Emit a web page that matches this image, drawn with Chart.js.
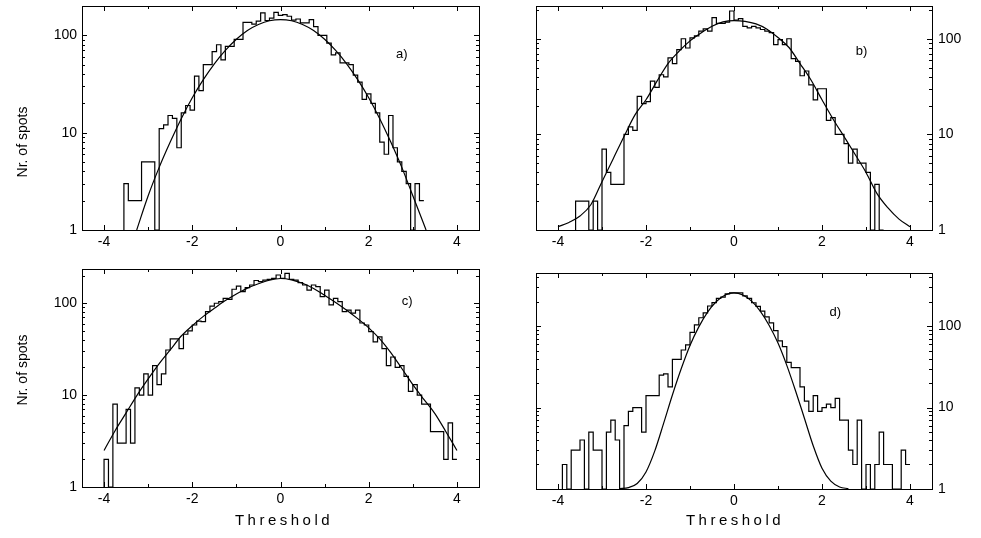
<!DOCTYPE html>
<html>
<head>
<meta charset="utf-8">
<script src="https://cdn.jsdelivr.net/npm/chart.js@4.4.1/dist/chart.umd.min.js"></script>
<style>
  body { margin: 0; background: #fff; }
  #wrap { position: relative; width: 981px; height: 538px; overflow: hidden; font-family: "Liberation Sans", Arial, sans-serif; color: #000; }
  canvas { position: absolute; }
  .ytitle { position: absolute; width: 120px; height: 18px; line-height: 18px; text-align: center; font-size: 14px; transform: rotate(-90deg); white-space: nowrap; }
  .xtitle { position: absolute; width: 140px; text-align: center; font-size: 15px; letter-spacing: 3.5px; white-space: nowrap; }
</style>
</head>
<body>
<div id="wrap">
  <canvas id="cA" width="490" height="262" style="left:0;top:0"></canvas>
  <canvas id="cB" width="491" height="262" style="left:490px;top:0"></canvas>
  <canvas id="cC" width="490" height="276" style="left:0;top:262px"></canvas>
  <canvas id="cD" width="491" height="276" style="left:490px;top:262px"></canvas>
  <div class="ytitle" style="left:-38px;top:133px">Nr. of spots</div>
  <div class="ytitle" style="left:-38px;top:361px">Nr. of spots</div>
  <div class="xtitle" style="left:214px;top:511px">Threshold</div>
  <div class="xtitle" style="left:665px;top:511px">Threshold</div>
</div>
<script>
// axis ticks
const xTicks = [-4, -2, 0, 2, 4];
const xMinor = [-3, -1, 1, 3];
const yTicks = [1, 10, 100];
const yMinor = [2, 3, 4, 5, 6, 7, 8, 9, 20, 30, 40, 50, 60, 70, 80, 90, 200, 300, 400];

const binWidth = 0.1;

// a) histogram, first bin starts at -3.55
const histAStart = -3.55;
const histA = [3, 2, 2, 2, 5, 5, 5, 1, 11, 12, 15, 14, 7, 16, 19, 17, 38, 27, 50, 50,
  68, 80, 56, 77, 77, 91, 91, 136, 136, 130, 140, 170, 142, 150, 172, 160,
  163, 157, 143, 147, 134, 134, 145, 123, 100, 100, 83, 63, 66, 52, 52, 50,
  39, 33, 22, 25, 20, 16, 8, 6, 15, 7, 5, 4, 3, 1, 3, 2];
const fitAX = [-3.26, -3, -2.75, -2.5, -2.25, -2, -1.75, -1.5, -1.25, -1, -0.75, -0.5, -0.25, 0,
  0.25, 0.5, 0.75, 1, 1.25, 1.5, 1.75, 2, 2.25, 2.5, 2.75, 3, 3.3];
const fitAY = [1, 2.25, 4.4, 8, 13.9, 22.8, 35, 51, 70, 91, 112, 129, 141, 145,
  141, 129, 112, 91, 70, 51, 35, 22.8, 13.9, 8, 4.4, 2.25, 1];

// b)
const histBStart = -3.6;
const histB = [2, 2, 2, 1, 2, 1, 7, 4, 3, 3, 3, 10, 12, 11, 25, 21, 22, 36, 31, 42,
  40, 63, 55, 77, 100, 80, 102, 107, 120, 127, 120, 166, 145, 145, 149, 195,
  157, 162, 135, 130, 135, 130, 125, 120, 116, 87, 98, 87, 100, 62, 58, 41,
  46, 33, 23, 30, 30, 14, 15, 10, 10, 8, 5, 7, 5, 5, 4, 1, 3, 1];
const fitBX = [-4, -3.75, -3.5, -3.25, -3, -2.75, -2.5, -2.25, -2, -1.75, -1.5, -1.25, -1, -0.75, -0.5, -0.25, 0,
  0.25, 0.5, 0.75, 1, 1.25, 1.5, 1.75, 2, 2.25, 2.5, 2.75, 3, 3.25, 3.5, 3.75, 4];
const fitBY = [1.08, 1.2, 1.4, 1.85, 3.2, 5.5, 9.5, 16, 23, 36, 55, 74, 95, 115, 135, 150, 155,
  152, 143, 126, 103, 81, 55, 37, 23, 14.5, 9.5, 6.2, 4, 2.4, 1.7, 1.3, 1.08];

// c)
const histCStart = -4.0;
const histC = [2, 1, 8, 3, 3, 7, 3, 12, 10, 17, 10, 21, 13, 17, 31, 41, 41, 32, 46, 50,
  58, 64, 63, 81, 93, 100, 104, 113, 110, 142, 154, 134, 148, 158, 177, 172, 179, 182, 187, 203,
  187, 211, 182, 179, 168, 158, 139, 158, 152, 118, 139, 96, 113, 104, 81, 84, 78, 84, 61, 58,
  49, 38, 43, 32, 21, 26, 20, 21, 16, 11, 13, 10, 8, 8, 4, 4, 4, 2, 5, 2];
const fitCX = [-4, -3.75, -3.5, -3.25, -3, -2.75, -2.5, -2.25, -2, -1.75, -1.5, -1.25, -1, -0.75, -0.5, -0.25, 0,
  0.25, 0.5, 0.75, 1, 1.25, 1.5, 1.75, 2, 2.25, 2.5, 2.75, 3, 3.25, 3.5, 3.75, 4];
const fitCY = [2.5, 4.1, 6.4, 10, 15, 22, 31, 44, 57, 72, 88, 107, 126, 146, 163, 178, 186,
  180, 165, 145, 122, 102, 84, 68, 54, 41, 29, 19.5, 13, 9, 6.3, 4, 2.5];

// d)
const histDStart = -3.9;
const histD = [2, 1, 3, 3, 4, 1, 5, 3, 3, 1, 5, 7, 4, 1, 6, 9, 10, 10, 5, 14,
  14, 14, 25, 26, 18, 39, 39, 51, 59, 84, 104, 127, 146, 177, 195, 220, 228, 249, 256,
  256, 256, 235, 220, 194, 175, 153, 130, 110, 88, 66, 56, 36, 31, 31, 18, 12, 9, 14, 9,
  10, 11, 10, 13, 7, 7, 3, 2, 7, 1, 2, 1, 2, 5, 2, 2, 1, 1, 3, 2];
const fitDX = [-2.6, -2.4, -2.2, -2, -1.8, -1.6, -1.4, -1.2, -1, -0.8, -0.6, -0.4, -0.2, 0,
  0.2, 0.4, 0.6, 0.8, 1, 1.2, 1.4, 1.6, 1.8, 2, 2.2, 2.4, 2.6];
const fitDY = [1.01, 1.04, 1.17, 1.62, 2.94, 6.4, 14.3, 30, 58, 98, 149, 201, 241, 256,
  241, 203, 152, 102, 62, 33, 16, 7.4, 3.4, 1.8, 1.25, 1.06, 1.01];

function stepPoints(start, counts) {
  const pts = [{ x: start, y: 1 }];
  counts.forEach((c, i) => {
    const x0 = +(start + i * binWidth).toFixed(3);
    const x1 = +(start + (i + 1) * binWidth).toFixed(3);
    pts.push({ x: x0, y: c }, { x: x1, y: c });
  });
  return pts;
}

function curvePoints(xs, ys) {
  return xs.map((x, i) => ({ x: x, y: ys[i] }));
}

// inward tick marks + frame + panel letter
const framePlugin = {
  id: "frame",
  afterDraw(chart, args, opts) {
    const ctx = chart.ctx;
    const a = chart.chartArea;
    const xs = chart.scales.x;
    const ys = chart.scales.y;
    ctx.save();
    ctx.strokeStyle = "#000";
    ctx.lineWidth = 1;
    ctx.beginPath();
    const tick = (x1, y1, x2, y2) => { ctx.moveTo(x1, y1); ctx.lineTo(x2, y2); };
    xTicks.forEach(v => {
      const p = Math.round(xs.getPixelForValue(v)) + 0.5;
      tick(p, a.bottom, p, a.bottom - 5);
      tick(p, a.top, p, a.top + 5);
    });
    xMinor.forEach(v => {
      const p = Math.round(xs.getPixelForValue(v)) + 0.5;
      tick(p, a.bottom, p, a.bottom - 3);
      tick(p, a.top, p, a.top + 3);
    });
    yTicks.concat(yMinor).forEach(v => {
      if (v > ys.max) return;
      const len = yTicks.includes(v) ? 5 : 3;
      const p = Math.round(ys.getPixelForValue(v)) + 0.5;
      tick(a.left, p, a.left + len, p);
      tick(a.right, p, a.right - len, p);
    });
    ctx.stroke();
    ctx.strokeRect(Math.round(a.left) + 0.5, Math.round(a.top) + 0.5,
      Math.round(a.right - a.left), Math.round(a.bottom - a.top));
    ctx.fillStyle = "#000";
    ctx.font = '13px "Liberation Sans", Arial, sans-serif';
    ctx.textAlign = "center";
    ctx.textBaseline = "middle";
    ctx.fillText(opts.label, xs.getPixelForValue(opts.lx), ys.getPixelForValue(opts.ly));
    ctx.restore();
  }
};

function makePanel(id, p) {
  new Chart(document.getElementById(id), {
    type: "scatter",
    data: {
      datasets: [
        { data: stepPoints(p.start, p.counts), showLine: true, borderColor: "#000",
          borderWidth: 1.2, pointRadius: 0, tension: 0 },
        { data: curvePoints(p.fx, p.fy), showLine: true, borderColor: "#000",
          borderWidth: 1.2, pointRadius: 0, tension: 0.4, cubicInterpolationMode: "monotone" }
      ]
    },
    options: {
      responsive: false,
      animation: false,
      devicePixelRatio: 1,
      layout: { padding: p.pad },
      plugins: {
        legend: { display: false },
        tooltip: { enabled: false },
        frame: { label: p.label, lx: p.lx, ly: p.ly }
      },
      scales: {
        x: {
          type: "linear", min: -4.5, max: 4.5,
          grid: { display: false, drawTicks: false },
          border: { display: false },
          afterBuildTicks: s => { s.ticks = xTicks.map(v => ({ value: v })); },
          afterFit: s => { s.height = p.xh; s.paddingLeft = 0; s.paddingRight = 0; },
          ticks: { autoSkip: false, maxRotation: 0, padding: 4, color: "#000",
            font: { family: '"Liberation Sans", Arial, sans-serif', size: 14 },
            callback: v => String(v) }
        },
        y: {
          type: "logarithmic", min: 1, max: p.ymax, position: p.ypos,
          grid: { display: false, drawTicks: false },
          border: { display: false },
          afterBuildTicks: s => { s.ticks = yTicks.map(v => ({ value: v })); },
          afterFit: s => { s.width = p.yw; s.paddingTop = 0; s.paddingBottom = 0; },
          ticks: { autoSkip: false, padding: p.ypos === "left" ? 5 : 6, color: "#000",
            font: { family: '"Liberation Sans", Arial, sans-serif', size: 14 },
            callback: v => String(v) }
        }
      }
    },
    plugins: [framePlugin]
  });
}

makePanel("cA", { start: histAStart, counts: histA, fx: fitAX, fy: fitAY, ymax: 200, ypos: "left",
  pad: { left: 0, top: 6, right: 11, bottom: 0 }, yw: 82, xh: 32, label: "a)", lx: 2.75, ly: 63 });
makePanel("cB", { start: histBStart, counts: histB, fx: fitBX, fy: fitBY, ymax: 220, ypos: "right",
  pad: { left: 46, top: 6, right: 0, bottom: 0 }, yw: 49, xh: 32, label: "b)", lx: 2.9, ly: 73 });
makePanel("cC", { start: histCStart, counts: histC, fx: fitCX, fy: fitCY, ymax: 236, ypos: "left",
  pad: { left: 0, top: 7, right: 11, bottom: 0 }, yw: 82, xh: 51, label: "c)", lx: 2.87, ly: 104 });
makePanel("cD", { start: histDStart, counts: histD, fx: fitDX, fy: fitDY, ymax: 450, ypos: "right",
  pad: { left: 46, top: 11, right: 0, bottom: 0 }, yw: 49, xh: 49, label: "d)", lx: 2.3, ly: 147 });
</script>
</body>
</html>
